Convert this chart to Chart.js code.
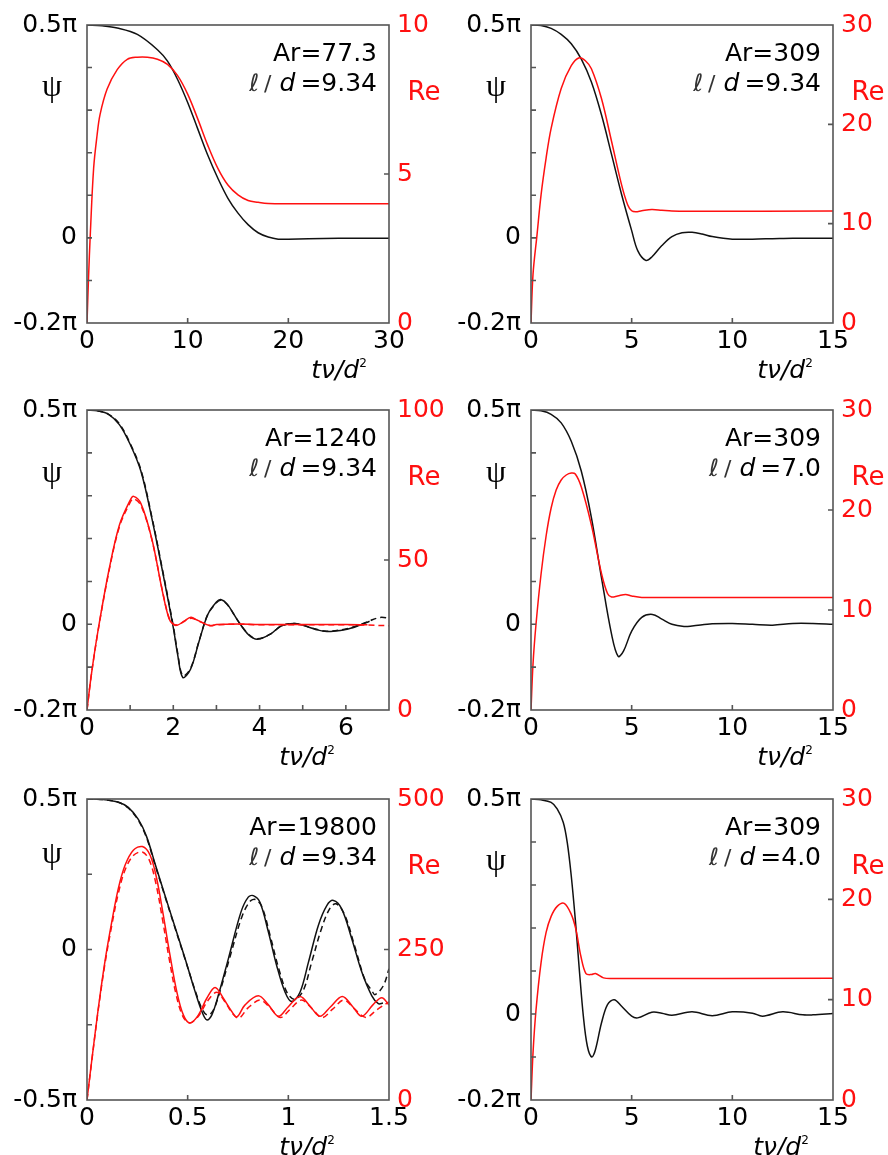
<!DOCTYPE html>
<html>
<head>
<meta charset="utf-8">
<script src="https://cdn.jsdelivr.net/npm/chart.js@4.4.0/dist/chart.umd.min.js"></script>
<style>
  body { margin: 0; background: #fff; }
  #wrap { position: relative; width: 888px; height: 1155px; }
  .cell { position: absolute; width: 444px; height: 385px; }
</style>
</head>
<body>
<div id="wrap">
  <div class="cell" style="left:0;top:0"><canvas id="c1"></canvas></div>
  <div class="cell" style="left:444px;top:0"><canvas id="c2"></canvas></div>
  <div class="cell" style="left:0;top:385px"><canvas id="c3"></canvas></div>
  <div class="cell" style="left:444px;top:385px"><canvas id="c4"></canvas></div>
  <div class="cell" style="left:0;top:770px"><canvas id="c5"></canvas></div>
  <div class="cell" style="left:444px;top:770px"><canvas id="c6"></canvas></div>
</div>
<script>
// t = tν/d², psi in units of π, Re on the right axis

// Ar=77.3, l/d=9.34
const p1PsiT = [0, 1.5, 3, 5, 7, 8, 9, 10, 11, 12, 13, 14, 15, 16, 17, 18, 19, 20, 22, 25, 30];
const p1Psi  = [0.5, 0.498, 0.493, 0.478, 0.442, 0.415, 0.372, 0.318, 0.256, 0.194, 0.14, 0.093, 0.058, 0.031, 0.012, 0.002, -0.003, -0.003, -0.002, -0.001, -0.001];
const p1ReT  = [0, 0.15, 0.33, 0.66, 1, 1.3, 2, 3, 4, 5, 6, 7, 8, 9, 10, 11, 12, 13, 14, 15, 16, 17, 18, 20, 25, 30];
const p1Re   = [0, 1.5, 3.0, 5.2, 6.3, 7.0, 7.85, 8.5, 8.85, 8.92, 8.92, 8.85, 8.68, 8.3, 7.68, 6.85, 5.96, 5.19, 4.63, 4.3, 4.11, 4.05, 4.01, 4.0, 4.0, 4.0];

// Ar=309, l/d=9.34
const p2PsiT = [0, 0.5, 1, 1.5, 2, 2.5, 3, 3.5, 4, 4.5, 5, 5.3, 5.7, 6, 6.5, 7, 7.5, 8, 8.5, 9, 10, 11, 12, 13, 15];
const p2Psi  = [0.5, 0.499, 0.492, 0.478, 0.456, 0.42, 0.366, 0.289, 0.196, 0.102, 0.017, -0.03, -0.053, -0.045, -0.018, 0.003, 0.012, 0.013, 0.009, 0.003, -0.003, -0.003, -0.002, -0.001, -0.001];
const p2ReT  = [0, 0.1, 0.3, 0.5, 0.75, 1, 1.5, 2, 2.4, 2.7, 3, 3.5, 4, 4.5, 4.8, 5, 5.2, 5.5, 6, 6.5, 7, 8, 15];
const p2Re   = [0, 4.9, 8.9, 12.9, 16.6, 19.6, 23.6, 25.9, 26.7, 26.4, 25.6, 22.6, 18.3, 13.9, 11.9, 11.3, 11.2, 11.3, 11.43, 11.35, 11.27, 11.25, 11.27];

// Ar=1240, l/d=9.34 (solid and dashed)
const p3PsiT = [0, 0.25, 0.5, 0.75, 1, 1.25, 1.5, 1.75, 2, 2.1, 2.22, 2.4, 2.6, 2.8, 3, 3.1, 3.25, 3.5, 3.75, 3.95, 4.25, 4.5, 4.8, 5, 5.3, 5.56, 6, 6.3, 6.55];
const p3Psi  = [0.5, 0.498, 0.49, 0.466, 0.42, 0.357, 0.249, 0.124, -0.008, -0.07, -0.124, -0.105, -0.039, 0.023, 0.052, 0.058, 0.047, 0.008, -0.025, -0.035, -0.023, -0.004, 0.002, -0.002, -0.012, -0.017, -0.012, -0.003, 0.007];
const p3PsiDashT = [0, 0.25, 0.5, 0.75, 1, 1.25, 1.5, 1.75, 2, 2.1, 2.22, 2.4, 2.6, 2.8, 3, 3.1, 3.25, 3.5, 3.75, 3.95, 4.25, 4.5, 4.8, 5, 5.3, 5.56, 6, 6.3, 6.55, 6.8, 7];
const p3PsiDash  = [0.5, 0.498, 0.49, 0.468, 0.422, 0.36, 0.252, 0.127, -0.004, -0.066, -0.12, -0.103, -0.038, 0.023, 0.05, 0.056, 0.046, 0.008, -0.024, -0.034, -0.023, -0.004, 0.002, -0.002, -0.011, -0.016, -0.011, -0.002, 0.008, 0.016, 0.014];
const p3ReT  = [0, 0.1, 0.25, 0.5, 0.75, 1, 1.08, 1.25, 1.5, 1.75, 1.9, 2, 2.1, 2.25, 2.41, 2.55, 2.85, 3, 3.5, 4, 5, 6, 6.5];
const p3Re   = [0, 11.7, 26, 46, 61.6, 69.9, 71.2, 68.8, 57.2, 39.4, 30.5, 28.5, 28.3, 29.6, 30.9, 30, 28.1, 28.5, 28.7, 28.5, 28.5, 28.5, 28.4];
const p3ReDashT = [0, 0.1, 0.25, 0.5, 0.75, 1, 1.08, 1.25, 1.5, 1.75, 1.9, 2, 2.1, 2.25, 2.41, 2.55, 2.85, 3, 3.5, 4, 5, 6, 6.5, 7];
const p3ReDash  = [0, 11.6, 25.8, 45.6, 61, 69.2, 70.4, 68.2, 57, 39.6, 30.8, 28.7, 28.4, 29.5, 30.6, 29.9, 28.2, 28.4, 28.6, 28.4, 28.4, 28.4, 28.3, 28.1];

// Ar=309, l/d=7.0
const p4PsiT = [0, 0.5, 1, 1.5, 2, 2.5, 3, 3.5, 4, 4.33, 4.6, 5, 5.5, 6.03, 6.5, 7, 7.6, 8, 9, 10, 11, 12, 13, 14, 15];
const p4Psi  = [0.5, 0.498, 0.49, 0.47, 0.427, 0.357, 0.249, 0.109, -0.023, -0.075, -0.062, -0.016, 0.016, 0.023, 0.012, 0, -0.005, -0.004, 0.001, 0.002, 0, -0.002, 0.002, 0.002, 0];
const p4ReT  = [0, 0.1, 0.25, 0.5, 0.75, 1, 1.25, 1.5, 1.75, 2, 2.2, 2.5, 3, 3.5, 3.8, 4, 4.3, 4.7, 5, 5.5, 15];
const p4Re   = [0, 4.6, 8.6, 13.6, 17.4, 20.2, 22.0, 23.0, 23.5, 23.7, 23.6, 22.3, 18.5, 13.65, 11.65, 11.3, 11.4, 11.56, 11.4, 11.26, 11.26];

// Ar=19800, l/d=9.34 (solid and dashed)
const p5PsiT = [0, 0.08, 0.156, 0.205, 0.255, 0.296, 0.338, 0.387, 0.437, 0.487, 0.537, 0.57, 0.595, 0.619, 0.652, 0.702, 0.765, 0.801, 0.826, 0.859, 0.901, 0.942, 0.984, 1.017, 1.058, 1.1, 1.149, 1.191, 1.224, 1.265, 1.315, 1.365, 1.414, 1.447, 1.47];
const p5Psi  = [0.5, 0.498, 0.489, 0.472, 0.432, 0.375, 0.285, 0.18, 0.075, -0.03, -0.14, -0.205, -0.234, -0.219, -0.153, -0.031, 0.125, 0.174, 0.179, 0.157, 0.058, -0.053, -0.142, -0.173, -0.142, -0.042, 0.08, 0.146, 0.163, 0.135, 0.036, -0.075, -0.153, -0.18, -0.178];
const p5PsiDashT = [0, 0.08, 0.156, 0.205, 0.255, 0.296, 0.338, 0.387, 0.437, 0.487, 0.537, 0.572, 0.598, 0.625, 0.66, 0.71, 0.77, 0.81, 0.838, 0.87, 0.91, 0.955, 0.995, 1.033, 1.075, 1.116, 1.165, 1.205, 1.237, 1.28, 1.33, 1.38, 1.414, 1.431, 1.472, 1.5];
const p5PsiDash  = [0.5, 0.498, 0.489, 0.47, 0.429, 0.371, 0.281, 0.177, 0.072, -0.032, -0.136, -0.198, -0.218, -0.205, -0.14, -0.025, 0.11, 0.16, 0.166, 0.14, 0.045, -0.07, -0.145, -0.166, -0.135, -0.042, 0.07, 0.135, 0.152, 0.115, 0.01, -0.1, -0.136, -0.15, -0.12, -0.064];
const p5ReT  = [0, 0.023, 0.056, 0.089, 0.123, 0.156, 0.189, 0.23, 0.275, 0.313, 0.346, 0.379, 0.412, 0.446, 0.479, 0.512, 0.553, 0.595, 0.636, 0.677, 0.719, 0.745, 0.785, 0.851, 0.901, 0.951, 1.0, 1.058, 1.11, 1.157, 1.21, 1.268, 1.32, 1.365, 1.42, 1.464, 1.5];
const p5Re   = [0, 64, 152, 230, 296, 352, 390, 415, 421, 407, 368, 307, 241, 180, 141, 128, 141, 169, 187, 169, 147, 138, 158, 173, 158, 139, 155, 172, 155, 139, 155, 172, 155, 139, 158, 170, 158];
const p5ReDashT = [0, 0.023, 0.056, 0.089, 0.123, 0.156, 0.189, 0.23, 0.275, 0.31, 0.342, 0.375, 0.408, 0.442, 0.476, 0.51, 0.555, 0.6, 0.645, 0.685, 0.725, 0.755, 0.8, 0.86, 0.91, 0.96, 1.01, 1.066, 1.12, 1.168, 1.22, 1.276, 1.33, 1.385, 1.44, 1.5];
const p5ReDash  = [0, 63, 150, 226, 290, 344, 382, 406, 412, 398, 360, 300, 235, 176, 139, 128, 140, 165, 179, 163, 143, 136, 153, 166, 153, 137, 151, 166, 151, 137, 151, 166, 151, 137, 150, 163];

// Ar=309, l/d=4.0
const p6PsiT = [0, 0.5, 1, 1.3, 1.6, 1.8, 2, 2.2, 2.4, 2.6, 2.8, 3.02, 3.2, 3.5, 3.8, 4.13, 4.5, 5, 5.3, 6, 6.5, 7, 8, 9, 10, 11, 11.5, 12.5, 13.5, 14, 15];
const p6Psi  = [0.5, 0.498, 0.492, 0.477, 0.446, 0.399, 0.321, 0.22, 0.103, -0.005, -0.075, -0.1, -0.083, -0.021, 0.022, 0.033, 0.018, -0.005, -0.009, 0.004, 0.002, -0.003, 0.005, -0.004, 0.005, 0.002, -0.005, 0.005, -0.002, -0.002, 0.001];
const p6ReT  = [0, 0.1, 0.25, 0.5, 0.75, 1, 1.3, 1.65, 2, 2.23, 2.48, 2.73, 3, 3.2, 3.6, 4, 15];
const p6Re   = [0, 4.7, 9, 13.7, 16.7, 18.3, 19.3, 19.6, 18.5, 17, 14.3, 12.6, 12.5, 12.6, 12.17, 12.1, 12.13];

// axis ticks
const p1XLabels = [0, 10, 20, 30];
const p2XLabels = [0, 5, 10, 15];
const p3XLabels = [0, 2, 4, 6];
const p5XLabels = [0, 0.5, 1, 1.5];
const psiLabelsA = [-0.2, 0, 0.5];
const psiLabelsB = [-0.5, 0, 0.5];

const FONT = '"DejaVu Sans", sans-serif';
const BLACK = '#111111';
const RED = '#ff1010';

function pts(t, y) {
  return t.map((v, i) => ({ x: v, y: y[i] }));
}

function line(t, y, axis, color, dashed) {
  return {
    data: pts(t, y),
    yAxisID: axis,
    borderColor: color,
    borderWidth: 1.5,
    borderDash: dashed ? [6, 4] : [],
    pointRadius: 0,
    fill: false,
    tension: 0.35
  };
}

const near = (list, v) => list.some(l => Math.abs(l - v) < 1e-6);

const framePlugin = {
  id: 'frame',
  afterDatasetsDraw(chart) {
    const { ctx, chartArea: a, scales } = chart;
    const p = chart.options.plugins.frame;
    ctx.save();
    ctx.strokeStyle = '#555';
    ctx.lineWidth = 1.6;
    ctx.strokeRect(a.left, a.top, a.right - a.left, a.bottom - a.top);
    // inward tick marks
    ctx.beginPath();
    scales.x.ticks.forEach(t => {
      const px = scales.x.getPixelForValue(t.value);
      if (px > a.left + 2 && px < a.right - 2) { ctx.moveTo(px, a.bottom); ctx.lineTo(px, a.bottom - 5); }
    });
    scales.y.ticks.forEach(t => {
      const py = scales.y.getPixelForValue(t.value);
      if (py > a.top + 2 && py < a.bottom - 2) { ctx.moveTo(a.left, py); ctx.lineTo(a.left + 5, py); }
    });
    scales.y1.ticks.forEach(t => {
      const py = scales.y1.getPixelForValue(t.value);
      if (py > a.top + 2 && py < a.bottom - 2) { ctx.moveTo(a.right, py); ctx.lineTo(a.right - 5, py); }
    });
    ctx.stroke();

    // axis titles
    ctx.textAlign = 'center';
    ctx.textBaseline = 'middle';
    ctx.fillStyle = '#000';
    ctx.font = '32px "Liberation Serif", serif';
    ctx.fillText('ψ', a.left - 35, a.top + p.psiDy);
    ctx.fillStyle = RED;
    ctx.font = '26px ' + FONT;
    ctx.fillText('Re', a.right + 35, a.top + 68);

    // tν/d²
    ctx.fillStyle = '#000';
    ctx.textBaseline = 'alphabetic';
    ctx.textAlign = 'left';
    ctx.font = 'italic 25px ' + FONT;
    const w1 = ctx.measureText('tν/d').width;
    ctx.font = '12px ' + FONT;
    const w2 = ctx.measureText('2').width;
    const x0 = a.right - p.titleDx - (w1 + w2) / 2;
    const yb = a.bottom + 55;
    ctx.font = 'italic 25px ' + FONT;
    ctx.fillText('tν/d', x0, yb);
    ctx.font = '12px ' + FONT;
    ctx.fillText('2', x0 + w1, yb - 11);

    // annotation
    const R = a.right - 12;
    ctx.textAlign = 'right';
    ctx.font = '25px ' + FONT;
    ctx.fillText('Ar=' + p.ar, R, a.top + 36);
    const y2 = a.top + 66;
    const eq = '=' + p.ld;
    ctx.fillText(eq, R, y2);
    let x = R - ctx.measureText(eq).width - 5;
    ctx.font = 'italic 25px ' + FONT;
    ctx.fillText('d', x, y2);
    x -= ctx.measureText('d').width + 8;
    ctx.fillStyle = '#333';
    ctx.font = '22px ' + FONT;
    ctx.fillText('/', x, y2);
    x -= ctx.measureText('/').width + 5;
    ctx.font = 'italic 24px ' + FONT;
    ctx.fillText('ℓ', x, y2);
    ctx.restore();
  }
};

function makeChart(cfg) {
  new Chart(document.getElementById(cfg.id), {
    type: 'line',
    data: { datasets: cfg.series },
    plugins: [framePlugin],
    options: {
      responsive: true,
      maintainAspectRatio: false,
      animation: false,
      events: [],
      layout: { padding: { top: cfg.top, left: 0, right: 0, bottom: 0 } },
      plugins: {
        legend: { display: false },
        tooltip: { enabled: false },
        frame: { psiDy: cfg.psiDy, titleDx: cfg.titleDx, ar: cfg.ar, ld: cfg.ld }
      },
      scales: {
        x: {
          type: 'linear',
          min: 0, max: cfg.xMax,
          grid: { display: false, drawTicks: false },
          border: { display: false },
          afterFit: s => { s.height = cfg.xHeight; },
          ticks: {
            stepSize: cfg.xStep, autoSkip: false, maxRotation: 0, minRotation: 0, padding: 3,
            color: '#000', font: { family: FONT, size: 25 },
            callback: v => near(cfg.xLabels, v) ? String(v) : ''
          }
        },
        y: {
          position: 'left',
          min: cfg.psiMin, max: cfg.psiMax,
          grid: { display: false, drawTicks: false },
          border: { display: false },
          afterFit: s => { s.width = 87; },
          ticks: {
            stepSize: cfg.psiStep, autoSkip: false, padding: 10,
            color: '#000', font: { family: FONT, size: 25 },
            callback: v => near(cfg.psiLabels, v) ? (Math.abs(v) < 1e-9 ? '0' : (+v.toFixed(2)) + 'π') : ''
          }
        },
        y1: {
          position: 'right',
          min: 0, max: cfg.reMax,
          grid: { display: false, drawTicks: false },
          border: { display: false },
          afterFit: s => { s.width = 55; },
          ticks: {
            stepSize: cfg.reStep, autoSkip: false, padding: 8,
            color: RED, font: { family: FONT, size: 25 }
          }
        }
      }
    }
  });
}

makeChart({
  id: 'c1', top: 22, xHeight: 62, psiDy: 63, titleDx: 50, ar: '77.3', ld: '9.34',
  xMax: 30, xStep: 10, xLabels: p1XLabels,
  psiMin: -0.2, psiMax: 0.5, psiStep: 0.1, psiLabels: psiLabelsA,
  reMax: 10, reStep: 5,
  series: [line(p1ReT, p1Re, 'y1', RED), line(p1PsiT, p1Psi, 'y', BLACK)]
});

makeChart({
  id: 'c2', top: 22, xHeight: 62, psiDy: 63, titleDx: 48, ar: '309', ld: '9.34',
  xMax: 15, xStep: 5, xLabels: p2XLabels,
  psiMin: -0.2, psiMax: 0.5, psiStep: 0.1, psiLabels: psiLabelsA,
  reMax: 30, reStep: 10,
  series: [line(p2ReT, p2Re, 'y1', RED), line(p2PsiT, p2Psi, 'y', BLACK)]
});

makeChart({
  id: 'c3', top: 24, xHeight: 60, psiDy: 64, titleDx: 82, ar: '1240', ld: '9.34',
  xMax: 7, xStep: 1, xLabels: p3XLabels,
  psiMin: -0.2, psiMax: 0.5, psiStep: 0.1, psiLabels: psiLabelsA,
  reMax: 100, reStep: 50,
  series: [
    line(p3ReT, p3Re, 'y1', RED), line(p3ReDashT, p3ReDash, 'y1', RED, true),
    line(p3PsiT, p3Psi, 'y', BLACK), line(p3PsiDashT, p3PsiDash, 'y', BLACK, true)
  ]
});

makeChart({
  id: 'c4', top: 24, xHeight: 60, psiDy: 64, titleDx: 48, ar: '309', ld: '7.0',
  xMax: 15, xStep: 5, xLabels: p2XLabels,
  psiMin: -0.2, psiMax: 0.5, psiStep: 0.1, psiLabels: psiLabelsA,
  reMax: 30, reStep: 10,
  series: [line(p4ReT, p4Re, 'y1', RED), line(p4PsiT, p4Psi, 'y', BLACK)]
});

makeChart({
  id: 'c5', top: 29, xHeight: 55, psiDy: 56, titleDx: 82, ar: '19800', ld: '9.34',
  xMax: 1.5, xStep: 0.5, xLabels: p5XLabels,
  psiMin: -0.5, psiMax: 0.5, psiStep: 0.25, psiLabels: psiLabelsB,
  reMax: 500, reStep: 250,
  series: [
    line(p5ReT, p5Re, 'y1', RED), line(p5ReDashT, p5ReDash, 'y1', RED, true),
    line(p5PsiT, p5Psi, 'y', BLACK), line(p5PsiDashT, p5PsiDash, 'y', BLACK, true)
  ]
});

makeChart({
  id: 'c6', top: 29, xHeight: 55, psiDy: 63, titleDx: 52, ar: '309', ld: '4.0',
  xMax: 15, xStep: 5, xLabels: p2XLabels,
  psiMin: -0.2, psiMax: 0.5, psiStep: 0.1, psiLabels: psiLabelsA,
  reMax: 30, reStep: 10,
  series: [line(p6ReT, p6Re, 'y1', RED), line(p6PsiT, p6Psi, 'y', BLACK)]
});
</script>
</body>
</html>
